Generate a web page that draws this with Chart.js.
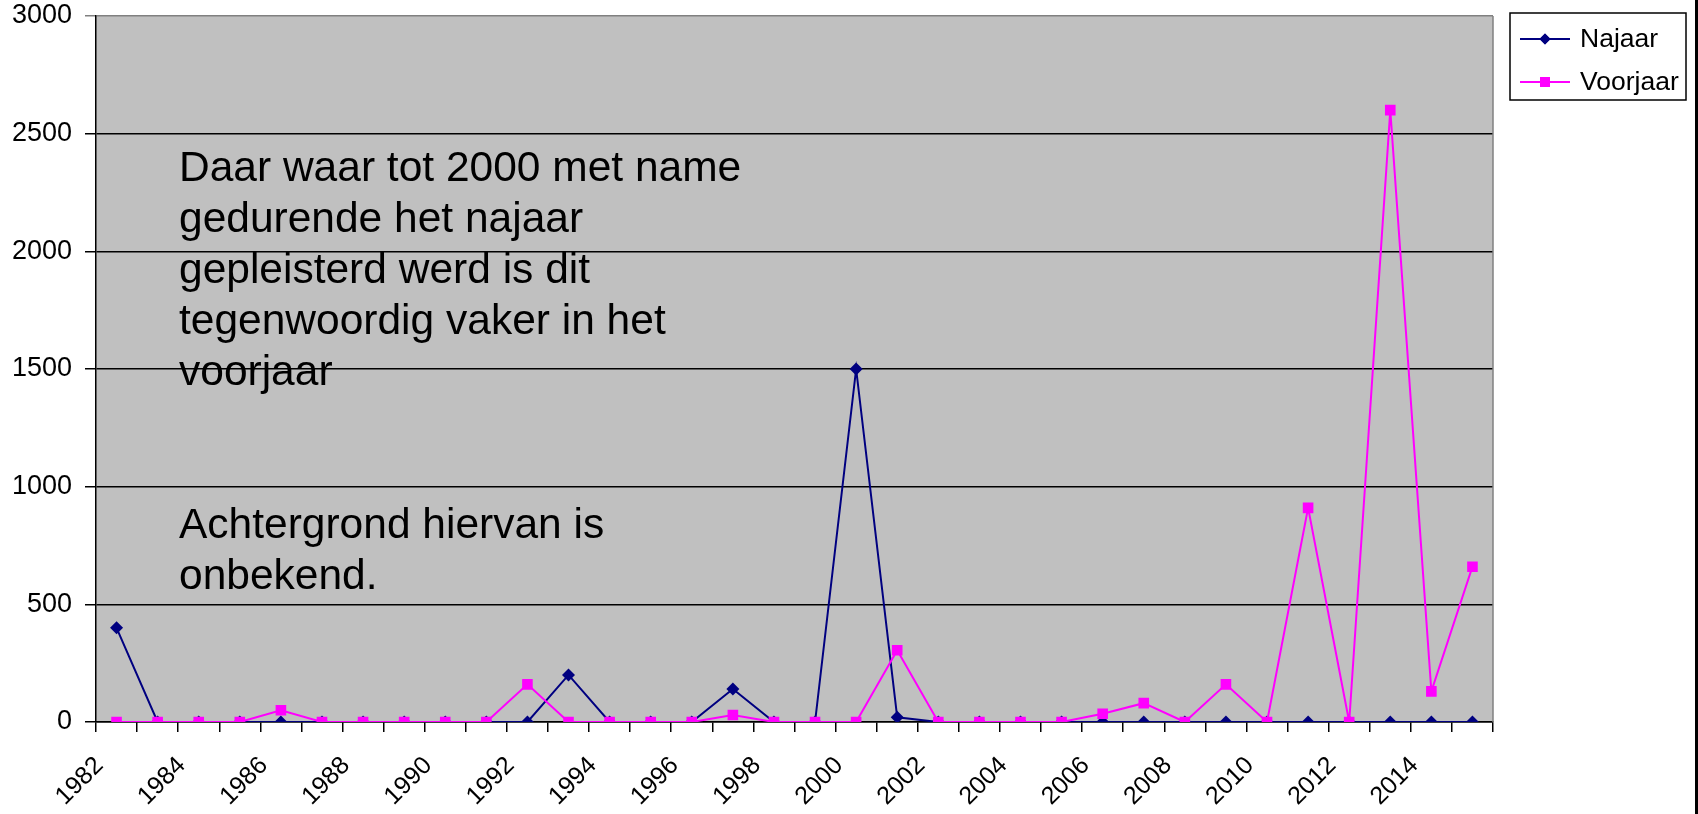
<!DOCTYPE html>
<html>
<head>
<meta charset="utf-8">
<script src="https://cdn.jsdelivr.net/npm/chart.js@4.4.1/dist/chart.umd.min.js"></script>
<style>
  html, body { margin: 0; padding: 0; background: #fff; }
  #wrap { width: 1698px; height: 814px; }
</style>
</head>
<body>
<div id="wrap"><canvas id="chart" width="1698" height="814"></canvas></div>
<script>
const years = ['1982', '1983', '1984', '1985', '1986', '1987', '1988', '1989', '1990', '1991',
    '1992', '1993', '1994', '1995', '1996', '1997', '1998', '1999', '2000', '2001',
    '2002', '2003', '2004', '2005', '2006', '2007', '2008', '2009', '2010', '2011',
    '2012', '2013', '2014', '2015'];

const najaar = [400, 0, 0, 0, 0, 0, 0, 0, 0, 0,
    0, 200, 0, 0, 0, 140, 0, 0, 1500, 20,
    0, 0, 0, 0, 0, 0, 0, 0, 0, 0,
    0, 0, 0, 0];

const voorjaar = [0, 0, 0, 0, 50, 0, 0, 0, 0, 0,
    160, 0, 0, 0, 0, 30, 0, 0, 0, 305,
    0, 0, 0, 0, 35, 80, 0, 160, 0, 910,
    0, 2600, 130, 660];

const yTicks = [0, 500, 1000, 1500, 2000, 2500, 3000];

const note = [
    'Daar waar tot 2000 met name',
    'gedurende het najaar',
    'gepleisterd werd is dit',
    'tegenwoordig vaker in het',
    'voorjaar',
    '',
    '',
    'Achtergrond hiervan is',
    'onbekend.'
];

const FONT = "'Liberation Sans', Arial, sans-serif";
const NAVY = '#000080';
const PINK = '#ff00ff';

const decor = {
    id: 'decor',
    beforeDraw(chart) {
        const {ctx, chartArea: a} = chart;
        ctx.save();
        ctx.fillStyle = '#c0c0c0';
        ctx.fillRect(a.left, a.top, a.right - a.left, a.bottom - a.top);
        ctx.restore();
    },
    beforeDatasetsDraw(chart) {
        const {ctx, chartArea: a} = chart;
        ctx.save();
        // grey right edge of the plot
        ctx.strokeStyle = '#808080';
        ctx.lineWidth = 1.5;
        ctx.beginPath();
        ctx.moveTo(a.right, a.top);
        ctx.lineTo(a.right, a.bottom);
        ctx.stroke();

        // note text
        ctx.fillStyle = '#000';
        ctx.font = '42.5px ' + FONT;
        ctx.textBaseline = 'alphabetic';
        ctx.textAlign = 'left';
        note.forEach((line, i) => {
            ctx.fillText(line, 179, 181 + i * 51);
        });
        ctx.restore();
    },
    afterDraw(chart) {
        const {ctx} = chart;
        ctx.save();
        // legend box
        ctx.strokeStyle = '#000';
        ctx.lineWidth = 1.5;
        ctx.strokeRect(1510, 13, 176, 87);

        const items = [
            {label: 'Najaar', color: NAVY, style: 'rectRot', radius: 5.5, y: 39},
            {label: 'Voorjaar', color: PINK, style: 'rect', radius: 7, y: 82}
        ];
        items.forEach(it => {
            ctx.strokeStyle = it.color;
            ctx.lineWidth = 2;
            ctx.beginPath();
            ctx.moveTo(1520, it.y);
            ctx.lineTo(1570, it.y);
            ctx.stroke();
            ctx.fillStyle = it.color;
            Chart.helpers.drawPoint(ctx, {pointStyle: it.style, radius: it.radius, borderWidth: 0}, 1545, it.y);
            ctx.fill();
            ctx.fillStyle = '#000';
            ctx.font = '26.5px ' + FONT;
            ctx.textBaseline = 'middle';
            ctx.fillText(it.label, 1580, it.y + 1);
        });

        // outer border on the right
        ctx.strokeStyle = '#000';
        ctx.lineWidth = 3;
        ctx.beginPath();
        ctx.moveTo(1696.5, 0);
        ctx.lineTo(1696.5, 814);
        ctx.stroke();
        ctx.restore();
    }
};

new Chart(document.getElementById('chart'), {
    type: 'line',
    data: {
        labels: years,
        datasets: [{
            label: 'Najaar',
            data: najaar,
            borderColor: NAVY,
            backgroundColor: NAVY,
            borderWidth: 2,
            pointStyle: 'rectRot',
            pointRadius: 6.5,
            pointBorderWidth: 0,
            tension: 0,
            order: 2
        }, {
            label: 'Voorjaar',
            data: voorjaar,
            borderColor: PINK,
            backgroundColor: PINK,
            borderWidth: 2,
            pointStyle: 'rect',
            pointRadius: 7.5,
            pointBorderWidth: 0,
            tension: 0,
            order: 1
        }]
    },
    options: {
        responsive: false,
        devicePixelRatio: 1,
        animation: false,
        layout: {padding: {top: 16, right: 205, left: 0, bottom: 0}},
        plugins: {
            legend: {display: false},
            tooltip: {enabled: false}
        },
        scales: {
            x: {
                offset: true,
                afterFit: s => { s.height = 92; s.paddingLeft = 0; s.paddingRight = 0; },
                grid: {
                    offset: true,
                    drawOnChartArea: false,
                    drawTicks: true,
                    tickLength: 10,
                    color: '#000',
                    lineWidth: 1.5
                },
                border: {color: '#000', width: 1.5},
                ticks: {
                    autoSkip: false,
                    maxRotation: 45,
                    minRotation: 45,
                    padding: 19,
                    labelOffset: -17,
                    color: '#000',
                    font: {family: FONT, size: 25},
                    callback: (v, i) => (i % 2 === 0 ? years[i] : '')
                }
            },
            y: {
                min: yTicks[0],
                max: yTicks[yTicks.length - 1],
                afterFit: s => { s.width = 96; s.paddingTop = 0; s.paddingBottom = 0; },
                afterBuildTicks: s => { s.ticks = yTicks.map(v => ({value: v})); },
                grid: {
                    color: c => (c.tick && c.tick.value === 3000 ? '#808080' : '#000'),
                    lineWidth: 1.5,
                    tickLength: 11
                },
                border: {color: '#000', width: 1.5},
                ticks: {
                    padding: 13,
                    color: '#000',
                    font: {family: FONT, size: 27},
                    callback: v => String(v)
                }
            }
        }
    },
    plugins: [decor]
});
</script>
</body>
</html>
